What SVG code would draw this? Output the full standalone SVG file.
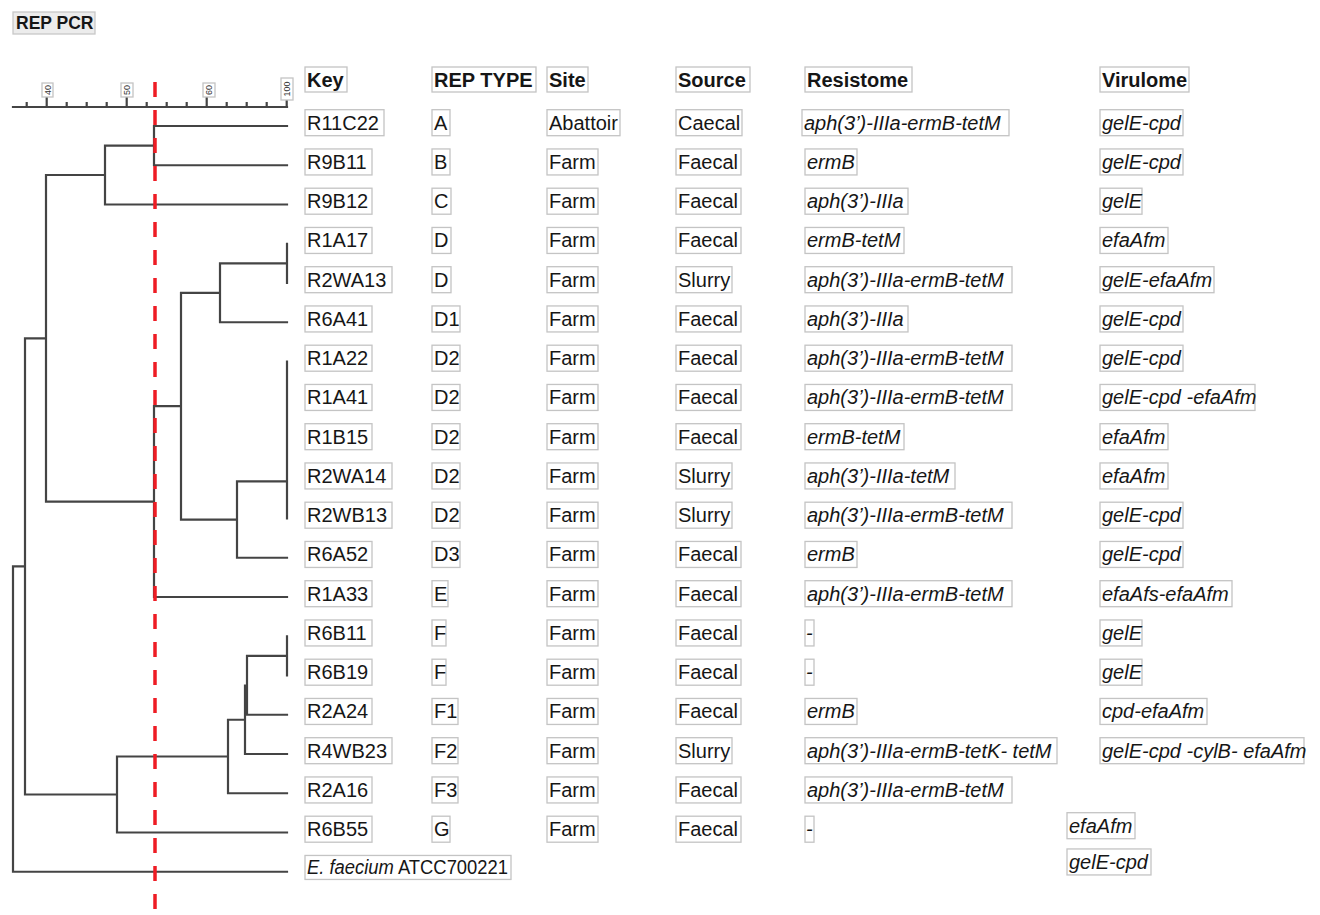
<svg xmlns="http://www.w3.org/2000/svg" width="1320" height="915" viewBox="0 0 1320 915">
<style>
.bx{fill:#fff;stroke:#c4c4c4;stroke-width:1.3}
.t{font-family:"Liberation Sans",Arial,Helvetica,sans-serif;font-size:20px;fill:#161616}
.i{font-style:italic}
.b{font-weight:bold}
.sc{font-family:"Liberation Sans",Arial,sans-serif;font-size:9px;fill:#333}
.dl{fill:none;stroke:#444;stroke-width:2.2;stroke-linecap:square}
.red{fill:none;stroke:#ee1c24;stroke-width:3.5;stroke-dasharray:15 13}
</style>
<rect width="1320" height="915" fill="#fff"/>
<g id="title">
<rect x="13" y="12" width="82" height="22" fill="#ececec" stroke="#c8c8c8" stroke-width="1.3"/>
<text x="16" y="29" class="t b" style="font-size:17.5px">REP PCR</text>
</g>
<g id="scale">
<path class="dl" d="M13 107H287M26.7 103V107M66.7 103V107M86.7 103V107M106.7 103V107M146.7 103V107M166.7 103V107M186.7 103V107M226.7 103V107M246.7 103V107M266.7 103V107M46.7 97V107M126.7 97V107M206.7 97V107M286.7 100V107"/>
<rect class="bx" x="42" y="83" width="11" height="14"/>
<text class="sc" transform="translate(47.5,90) rotate(-90)" text-anchor="middle" y="3">40</text>
<rect class="bx" x="121" y="83" width="12" height="14"/>
<text class="sc" transform="translate(127,90) rotate(-90)" text-anchor="middle" y="3">50</text>
<rect class="bx" x="203" y="83" width="12" height="14"/>
<text class="sc" transform="translate(209,90) rotate(-90)" text-anchor="middle" y="3">60</text>
<rect class="bx" x="281" y="78" width="12" height="22"/>
<text class="sc" transform="translate(287,89) rotate(-90)" text-anchor="middle" y="3">100</text>
</g>
<g id="connectors">
<path class="dl" d="M154 126H287M154 165.25H287M105 204.5H287M154 126V165.25M105 145.6H154M105 145.6V204.5M46 175H105
M287 243.75V283M220 263.4H287M220 322.25H287M220 263.4V322.25M181 292.8H220
M287 361.5V518.5M237 481.4H287M237 557.75H287M237 481.4V557.75M181 519.6H237M181 292.8V519.6M154 406.2H181
M154 597H287M154 406.2V597M46 501.6H154M46 175V501.6M25 338.3H46
M287 636.25V675.5M247 655.9H287M247 714.75H287M247 655.9V714.75M245 685.5H247M245 754H287M245 685.5V754M228 719.75H245
M228 793.25H287M228 719.75V793.25M117 756.5H228M117 832.5H287M117 756.5V832.5M25 794.5H117M25 338.3V794.5M13 566.4H25
M13 871.75H287M13 566.4V871.75"/>
</g>
<path id="cutoff" class="red" d="M155 82V915"/>
<g id="header" transform="translate(0,80)">
<rect class="bx" x="305" y="-13" width="42" height="25"/><text class="t b" x="307" y="7">Key</text>
<rect class="bx" x="432" y="-13" width="104" height="25"/><text class="t b" x="434" y="7">REP TYPE</text>
<rect class="bx" x="547" y="-13" width="41" height="25"/><text class="t b" x="549" y="7">Site</text>
<rect class="bx" x="676" y="-13" width="74" height="25"/><text class="t b" x="678" y="7">Source</text>
<rect class="bx" x="805" y="-13" width="107" height="25"/><text class="t b" x="807" y="7">Resistome</text>
<rect class="bx" x="1100" y="-13" width="89" height="25"/><text class="t b" x="1102" y="7">Virulome</text>
</g>
<g id="row-R11C22" transform="translate(0,122.7)">
<rect class="bx" x="305" y="-13" width="79" height="26"/><text class="t" x="307" y="7">R11C22</text>
<rect class="bx" x="432" y="-13" width="18" height="26"/><text class="t" x="434" y="7">A</text>
<rect class="bx" x="547" y="-13" width="73" height="26"/><text class="t" x="549" y="7">Abattoir</text>
<rect class="bx" x="676" y="-13" width="66" height="26"/><text class="t" x="678" y="7">Caecal</text>
<rect class="bx" x="802" y="-13" width="207" height="26"/><text class="t i" x="804" y="7">aph(3’)-IIIa-ermB-tetM</text>
<rect class="bx" x="1100" y="-13" width="83" height="26"/><text class="t i" x="1102" y="7">gelE-cpd</text>
</g>
<g id="row-R9B11" transform="translate(0,161.95)">
<rect class="bx" x="305" y="-13" width="67" height="26"/><text class="t" x="307" y="7">R9B11</text>
<rect class="bx" x="432" y="-13" width="18" height="26"/><text class="t" x="434" y="7">B</text>
<rect class="bx" x="547" y="-13" width="51" height="26"/><text class="t" x="549" y="7">Farm</text>
<rect class="bx" x="676" y="-13" width="65" height="26"/><text class="t" x="678" y="7">Faecal</text>
<rect class="bx" x="805" y="-13" width="52" height="26"/><text class="t i" x="807" y="7">ermB</text>
<rect class="bx" x="1100" y="-13" width="83" height="26"/><text class="t i" x="1102" y="7">gelE-cpd</text>
</g>
<g id="row-R9B12" transform="translate(0,201.2)">
<rect class="bx" x="305" y="-13" width="67" height="26"/><text class="t" x="307" y="7">R9B12</text>
<rect class="bx" x="432" y="-13" width="19" height="26"/><text class="t" x="434" y="7">C</text>
<rect class="bx" x="547" y="-13" width="51" height="26"/><text class="t" x="549" y="7">Farm</text>
<rect class="bx" x="676" y="-13" width="65" height="26"/><text class="t" x="678" y="7">Faecal</text>
<rect class="bx" x="805" y="-13" width="103" height="26"/><text class="t i" x="807" y="7">aph(3’)-IIIa</text>
<rect class="bx" x="1100" y="-13" width="42" height="26"/><text class="t i" x="1102" y="7">gelE</text>
</g>
<g id="row-R1A17" transform="translate(0,240.45)">
<rect class="bx" x="305" y="-13" width="67" height="26"/><text class="t" x="307" y="7">R1A17</text>
<rect class="bx" x="432" y="-13" width="19" height="26"/><text class="t" x="434" y="7">D</text>
<rect class="bx" x="547" y="-13" width="51" height="26"/><text class="t" x="549" y="7">Farm</text>
<rect class="bx" x="676" y="-13" width="65" height="26"/><text class="t" x="678" y="7">Faecal</text>
<rect class="bx" x="805" y="-13" width="99" height="26"/><text class="t i" x="807" y="7">ermB-tetM</text>
<rect class="bx" x="1100" y="-13" width="68" height="26"/><text class="t i" x="1102" y="7">efaAfm</text>
</g>
<g id="row-R2WA13" transform="translate(0,279.7)">
<rect class="bx" x="305" y="-13" width="87" height="26"/><text class="t" x="307" y="7">R2WA13</text>
<rect class="bx" x="432" y="-13" width="19" height="26"/><text class="t" x="434" y="7">D</text>
<rect class="bx" x="547" y="-13" width="51" height="26"/><text class="t" x="549" y="7">Farm</text>
<rect class="bx" x="676" y="-13" width="56" height="26"/><text class="t" x="678" y="7">Slurry</text>
<rect class="bx" x="805" y="-13" width="207" height="26"/><text class="t i" x="807" y="7">aph(3’)-IIIa-ermB-tetM</text>
<rect class="bx" x="1100" y="-13" width="114" height="26"/><text class="t i" x="1102" y="7">gelE-efaAfm</text>
</g>
<g id="row-R6A41" transform="translate(0,318.95)">
<rect class="bx" x="305" y="-13" width="67" height="26"/><text class="t" x="307" y="7">R6A41</text>
<rect class="bx" x="432" y="-13" width="28" height="26"/><text class="t" x="434" y="7">D1</text>
<rect class="bx" x="547" y="-13" width="51" height="26"/><text class="t" x="549" y="7">Farm</text>
<rect class="bx" x="676" y="-13" width="65" height="26"/><text class="t" x="678" y="7">Faecal</text>
<rect class="bx" x="805" y="-13" width="103" height="26"/><text class="t i" x="807" y="7">aph(3’)-IIIa</text>
<rect class="bx" x="1100" y="-13" width="83" height="26"/><text class="t i" x="1102" y="7">gelE-cpd</text>
</g>
<g id="row-R1A22" transform="translate(0,358.2)">
<rect class="bx" x="305" y="-13" width="67" height="26"/><text class="t" x="307" y="7">R1A22</text>
<rect class="bx" x="432" y="-13" width="28" height="26"/><text class="t" x="434" y="7">D2</text>
<rect class="bx" x="547" y="-13" width="51" height="26"/><text class="t" x="549" y="7">Farm</text>
<rect class="bx" x="676" y="-13" width="65" height="26"/><text class="t" x="678" y="7">Faecal</text>
<rect class="bx" x="805" y="-13" width="207" height="26"/><text class="t i" x="807" y="7">aph(3’)-IIIa-ermB-tetM</text>
<rect class="bx" x="1100" y="-13" width="83" height="26"/><text class="t i" x="1102" y="7">gelE-cpd</text>
</g>
<g id="row-R1A41" transform="translate(0,397.45)">
<rect class="bx" x="305" y="-13" width="67" height="26"/><text class="t" x="307" y="7">R1A41</text>
<rect class="bx" x="432" y="-13" width="28" height="26"/><text class="t" x="434" y="7">D2</text>
<rect class="bx" x="547" y="-13" width="51" height="26"/><text class="t" x="549" y="7">Farm</text>
<rect class="bx" x="676" y="-13" width="65" height="26"/><text class="t" x="678" y="7">Faecal</text>
<rect class="bx" x="805" y="-13" width="207" height="26"/><text class="t i" x="807" y="7">aph(3’)-IIIa-ermB-tetM</text>
<rect class="bx" x="1100" y="-13" width="155" height="26"/><text class="t i" x="1102" y="7">gelE-cpd -efaAfm</text>
</g>
<g id="row-R1B15" transform="translate(0,436.7)">
<rect class="bx" x="305" y="-13" width="67" height="26"/><text class="t" x="307" y="7">R1B15</text>
<rect class="bx" x="432" y="-13" width="28" height="26"/><text class="t" x="434" y="7">D2</text>
<rect class="bx" x="547" y="-13" width="51" height="26"/><text class="t" x="549" y="7">Farm</text>
<rect class="bx" x="676" y="-13" width="65" height="26"/><text class="t" x="678" y="7">Faecal</text>
<rect class="bx" x="805" y="-13" width="99" height="26"/><text class="t i" x="807" y="7">ermB-tetM</text>
<rect class="bx" x="1100" y="-13" width="68" height="26"/><text class="t i" x="1102" y="7">efaAfm</text>
</g>
<g id="row-R2WA14" transform="translate(0,475.95)">
<rect class="bx" x="305" y="-13" width="87" height="26"/><text class="t" x="307" y="7">R2WA14</text>
<rect class="bx" x="432" y="-13" width="28" height="26"/><text class="t" x="434" y="7">D2</text>
<rect class="bx" x="547" y="-13" width="51" height="26"/><text class="t" x="549" y="7">Farm</text>
<rect class="bx" x="676" y="-13" width="56" height="26"/><text class="t" x="678" y="7">Slurry</text>
<rect class="bx" x="805" y="-13" width="150" height="26"/><text class="t i" x="807" y="7">aph(3’)-IIIa-tetM</text>
<rect class="bx" x="1100" y="-13" width="68" height="26"/><text class="t i" x="1102" y="7">efaAfm</text>
</g>
<g id="row-R2WB13" transform="translate(0,515.2)">
<rect class="bx" x="305" y="-13" width="87" height="26"/><text class="t" x="307" y="7">R2WB13</text>
<rect class="bx" x="432" y="-13" width="28" height="26"/><text class="t" x="434" y="7">D2</text>
<rect class="bx" x="547" y="-13" width="51" height="26"/><text class="t" x="549" y="7">Farm</text>
<rect class="bx" x="676" y="-13" width="56" height="26"/><text class="t" x="678" y="7">Slurry</text>
<rect class="bx" x="805" y="-13" width="207" height="26"/><text class="t i" x="807" y="7">aph(3’)-IIIa-ermB-tetM</text>
<rect class="bx" x="1100" y="-13" width="83" height="26"/><text class="t i" x="1102" y="7">gelE-cpd</text>
</g>
<g id="row-R6A52" transform="translate(0,554.45)">
<rect class="bx" x="305" y="-13" width="67" height="26"/><text class="t" x="307" y="7">R6A52</text>
<rect class="bx" x="432" y="-13" width="28" height="26"/><text class="t" x="434" y="7">D3</text>
<rect class="bx" x="547" y="-13" width="51" height="26"/><text class="t" x="549" y="7">Farm</text>
<rect class="bx" x="676" y="-13" width="65" height="26"/><text class="t" x="678" y="7">Faecal</text>
<rect class="bx" x="805" y="-13" width="52" height="26"/><text class="t i" x="807" y="7">ermB</text>
<rect class="bx" x="1100" y="-13" width="83" height="26"/><text class="t i" x="1102" y="7">gelE-cpd</text>
</g>
<g id="row-R1A33" transform="translate(0,593.7)">
<rect class="bx" x="305" y="-13" width="67" height="26"/><text class="t" x="307" y="7">R1A33</text>
<rect class="bx" x="432" y="-13" width="16" height="26"/><text class="t" x="434" y="7">E</text>
<rect class="bx" x="547" y="-13" width="51" height="26"/><text class="t" x="549" y="7">Farm</text>
<rect class="bx" x="676" y="-13" width="65" height="26"/><text class="t" x="678" y="7">Faecal</text>
<rect class="bx" x="805" y="-13" width="207" height="26"/><text class="t i" x="807" y="7">aph(3’)-IIIa-ermB-tetM</text>
<rect class="bx" x="1100" y="-13" width="132" height="26"/><text class="t i" x="1102" y="7">efaAfs-efaAfm</text>
</g>
<g id="row-R6B11" transform="translate(0,632.95)">
<rect class="bx" x="305" y="-13" width="67" height="26"/><text class="t" x="307" y="7">R6B11</text>
<rect class="bx" x="432" y="-13" width="14" height="26"/><text class="t" x="434" y="7">F</text>
<rect class="bx" x="547" y="-13" width="51" height="26"/><text class="t" x="549" y="7">Farm</text>
<rect class="bx" x="676" y="-13" width="65" height="26"/><text class="t" x="678" y="7">Faecal</text>
<rect class="bx" x="805" y="-13" width="9" height="26"/><text class="t i" x="806" y="7">-</text>
<rect class="bx" x="1100" y="-13" width="42" height="26"/><text class="t i" x="1102" y="7">gelE</text>
</g>
<g id="row-R6B19" transform="translate(0,672.2)">
<rect class="bx" x="305" y="-13" width="67" height="26"/><text class="t" x="307" y="7">R6B19</text>
<rect class="bx" x="432" y="-13" width="14" height="26"/><text class="t" x="434" y="7">F</text>
<rect class="bx" x="547" y="-13" width="51" height="26"/><text class="t" x="549" y="7">Farm</text>
<rect class="bx" x="676" y="-13" width="65" height="26"/><text class="t" x="678" y="7">Faecal</text>
<rect class="bx" x="805" y="-13" width="9" height="26"/><text class="t i" x="806" y="7">-</text>
<rect class="bx" x="1100" y="-13" width="42" height="26"/><text class="t i" x="1102" y="7">gelE</text>
</g>
<g id="row-R2A24" transform="translate(0,711.45)">
<rect class="bx" x="305" y="-13" width="67" height="26"/><text class="t" x="307" y="7">R2A24</text>
<rect class="bx" x="432" y="-13" width="26" height="26"/><text class="t" x="434" y="7">F1</text>
<rect class="bx" x="547" y="-13" width="51" height="26"/><text class="t" x="549" y="7">Farm</text>
<rect class="bx" x="676" y="-13" width="65" height="26"/><text class="t" x="678" y="7">Faecal</text>
<rect class="bx" x="805" y="-13" width="52" height="26"/><text class="t i" x="807" y="7">ermB</text>
<rect class="bx" x="1100" y="-13" width="107" height="26"/><text class="t i" x="1102" y="7">cpd-efaAfm</text>
</g>
<g id="row-R4WB23" transform="translate(0,750.7)">
<rect class="bx" x="305" y="-13" width="87" height="26"/><text class="t" x="307" y="7">R4WB23</text>
<rect class="bx" x="432" y="-13" width="26" height="26"/><text class="t" x="434" y="7">F2</text>
<rect class="bx" x="547" y="-13" width="51" height="26"/><text class="t" x="549" y="7">Farm</text>
<rect class="bx" x="676" y="-13" width="56" height="26"/><text class="t" x="678" y="7">Slurry</text>
<rect class="bx" x="805" y="-13" width="252" height="26"/><text class="t i" x="807" y="7">aph(3’)-IIIa-ermB-tetK- tetM</text>
<rect class="bx" x="1100" y="-13" width="204" height="26"/><text class="t i" x="1102" y="7">gelE-cpd -cylB- efaAfm</text>
</g>
<g id="row-R2A16" transform="translate(0,789.95)">
<rect class="bx" x="305" y="-13" width="67" height="26"/><text class="t" x="307" y="7">R2A16</text>
<rect class="bx" x="432" y="-13" width="26" height="26"/><text class="t" x="434" y="7">F3</text>
<rect class="bx" x="547" y="-13" width="51" height="26"/><text class="t" x="549" y="7">Farm</text>
<rect class="bx" x="676" y="-13" width="65" height="26"/><text class="t" x="678" y="7">Faecal</text>
<rect class="bx" x="805" y="-13" width="207" height="26"/><text class="t i" x="807" y="7">aph(3’)-IIIa-ermB-tetM</text>
</g>
<g id="row-R6B55" transform="translate(0,829.2)">
<rect class="bx" x="305" y="-13" width="67" height="26"/><text class="t" x="307" y="7">R6B55</text>
<rect class="bx" x="432" y="-13" width="18" height="26"/><text class="t" x="434" y="7">G</text>
<rect class="bx" x="547" y="-13" width="51" height="26"/><text class="t" x="549" y="7">Farm</text>
<rect class="bx" x="676" y="-13" width="65" height="26"/><text class="t" x="678" y="7">Faecal</text>
<rect class="bx" x="805" y="-13" width="9" height="26"/><text class="t i" x="806" y="7">-</text>
<rect class="bx" x="1067" y="-16.5" width="68" height="26"/><text class="t i" x="1069" y="3.5">efaAfm</text>
</g>
<g id="row-ATCC700221" transform="translate(0,868.45)">
<rect class="bx" x="305" y="-13" width="206" height="24"/><text class="t" x="307" y="6" textLength="201" lengthAdjust="spacingAndGlyphs"><tspan class="i">E. faecium</tspan> ATCC700221</text>
<rect class="bx" x="1067" y="-19.5" width="84" height="26"/><text class="t i" x="1069" y="0.5">gelE-cpd</text>
</g>
</svg>
